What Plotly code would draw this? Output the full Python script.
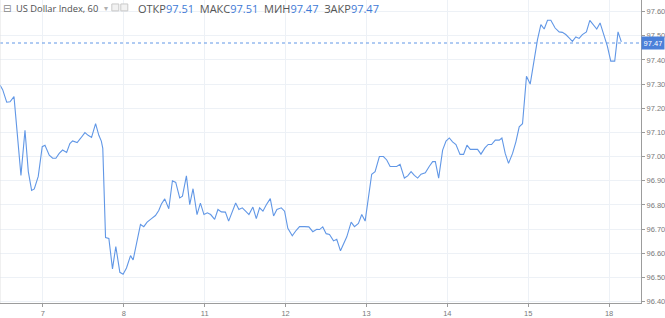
import plotly.graph_objects as go

# ---- data ----
day_labels = ["7", "8", "11", "12", "13", "14", "15", "18"]
day_ticks = [0, 1, 2, 3, 4, 5, 6, 7]

day_pos = [-0.531, -0.498, -0.448, -0.407, -0.358, -0.317, -0.272, -0.222, -0.181, -0.140,
           -0.107, -0.058, -0.009, 0.025, 0.078, 0.120, 0.160, 0.201, 0.243, 0.293,
           0.333, 0.367, 0.423, 0.469, 0.519, 0.559, 0.601, 0.651, 0.691, 0.722,
           0.740, 0.774, 0.815, 0.860, 0.901, 0.951, 0.991, 1.033, 1.083, 1.115,
           1.157, 1.206, 1.247, 1.288, 1.342, 1.391, 1.432, 1.465, 1.506, 1.556,
           1.601, 1.642, 1.691, 1.725, 1.774, 1.815, 1.856, 1.905, 1.947, 1.991,
           2.033, 2.074, 2.123, 2.164, 2.206, 2.256, 2.296, 2.337, 2.383, 2.423,
           2.465, 2.506, 2.547, 2.596, 2.638, 2.679, 2.720, 2.762, 2.811, 2.852,
           2.893, 2.947, 2.988, 3.028, 3.083, 3.132, 3.173, 3.235, 3.288, 3.337,
           3.386, 3.420, 3.460, 3.502, 3.543, 3.593, 3.633, 3.679, 3.720, 3.757,
           3.811, 3.852, 3.901, 3.942, 3.984, 4.025, 4.065, 4.107, 4.160, 4.210,
           4.251, 4.293, 4.333, 4.374, 4.416, 4.469, 4.510, 4.552, 4.593, 4.633,
           4.675, 4.728, 4.778, 4.819, 4.852, 4.893, 4.942, 4.984, 5.025, 5.065,
           5.107, 5.157, 5.201, 5.243, 5.284, 5.333, 5.374, 5.416, 5.465, 5.506,
           5.547, 5.593, 5.642, 5.675, 5.716, 5.757, 5.807, 5.848, 5.889, 5.930,
           5.979, 6.025, 6.074, 6.115, 6.157, 6.198, 6.239, 6.280, 6.333, 6.383,
           6.423, 6.465, 6.506, 6.547, 6.589, 6.630, 6.670, 6.720, 6.762, 6.802,
           6.848, 6.889, 6.938, 6.979, 7.021, 7.070, 7.111, 7.152]

price = [97.296, 97.277, 97.225, 97.227, 97.248, 97.088, 96.922, 97.109, 96.938, 96.860,
         96.866, 96.918, 97.041, 97.047, 97.006, 96.993, 96.993, 97.013, 97.027, 97.017,
         97.054, 97.065, 97.058, 97.077, 97.099, 97.088, 97.079, 97.136, 97.088, 97.064,
         97.034, 96.665, 96.661, 96.535, 96.628, 96.521, 96.513, 96.539, 96.590, 96.572,
         96.637, 96.719, 96.710, 96.729, 96.743, 96.756, 96.777, 96.804, 96.825, 96.784,
         96.900, 96.893, 96.829, 96.836, 96.920, 96.801, 96.867, 96.760, 96.807, 96.760,
         96.767, 96.760, 96.740, 96.781, 96.771, 96.770, 96.733, 96.771, 96.808, 96.781,
         96.788, 96.774, 96.760, 96.791, 96.743, 96.788, 96.774, 96.801, 96.826, 96.754,
         96.781, 96.788, 96.774, 96.703, 96.672, 96.695, 96.710, 96.710, 96.709, 96.689,
         96.699, 96.698, 96.709, 96.681, 96.678, 96.651, 96.658, 96.610, 96.637, 96.668,
         96.729, 96.710, 96.723, 96.760, 96.733, 96.829, 96.927, 96.938, 97.000, 97.000,
         96.986, 96.959, 96.959, 96.959, 96.968, 96.911, 96.920, 96.938, 96.922, 96.911,
         96.927, 96.933, 96.960, 96.979, 96.979, 96.911, 97.027, 97.064, 97.077, 97.061,
         97.050, 97.009, 97.009, 97.047, 97.030, 97.030, 97.030, 97.010, 97.036, 97.050,
         97.050, 97.068, 97.068, 97.077, 97.013, 96.972, 97.013, 97.061, 97.123, 97.136,
         97.332, 97.300, 97.409, 97.484, 97.546, 97.528, 97.564, 97.564, 97.532, 97.516,
         97.514, 97.505, 97.491, 97.477, 97.495, 97.489, 97.505, 97.516, 97.564, 97.546,
         97.528, 97.553, 97.498, 97.457, 97.395, 97.395, 97.516, 97.475]

last_price = 97.47
y_ticks = [96.4, 96.5, 96.6, 96.7, 96.8, 96.9, 97.0, 97.1, 97.2, 97.3, 97.4, 97.5, 97.6]
header_title = "US Dollar Index, 60"
ohlc_names = ["ОТКР", "МАКС", "МИН", "ЗАКР"]
ohlc_values = ["97.51", "97.51", "97.47", "97.47"]

# ---- figure ----
W, H = 665, 318
L, R, T, B = 0, 23, 0, 12
PW, PH = W - L - R, H - T - B

LINE = "#6197e6"
BLUE = "#3f7ad6"
GRID = "#edf1f6"
AXIS = "#9c9c9c"
TXT = "#7a7a7a"

fig = go.Figure()
fig.add_trace(go.Scatter(x=day_pos, y=price, mode="lines",
                         line=dict(color=LINE, width=1.1), hoverinfo="skip",
                         showlegend=False))

fig.update_layout(
    width=W, height=H,
    margin=dict(l=L, r=R, t=T, b=B, pad=0),
    paper_bgcolor="white", plot_bgcolor="white",
    font=dict(family="Liberation Sans, Arial, sans-serif", size=7.5, color=TXT),
    xaxis=dict(range=[-0.531, 7.395], tickmode="array", tickvals=day_ticks,
               ticktext=day_labels, showgrid=True, gridcolor=GRID, gridwidth=1,
               zeroline=False, showline=True, linecolor=AXIS, linewidth=1,
               ticks="outside", ticklen=3, tickcolor=AXIS,
               tickfont=dict(size=7.5, color=TXT), fixedrange=True),
    yaxis=dict(range=[96.394, 97.648], side="right", tickmode="array",
               tickvals=y_ticks, ticktext=[f"{v:.2f}" for v in y_ticks],
               showgrid=True, gridcolor=GRID, gridwidth=1, zeroline=False,
               showline=True, linecolor=AXIS, linewidth=1,
               ticks="outside", ticklen=3, tickcolor=AXIS,
               tickfont=dict(size=7.5, color=TXT), fixedrange=True),
)

# last price dotted line
fig.add_shape(type="line", xref="paper", x0=0, x1=1, yref="y",
              y0=last_price, y1=last_price,
              line=dict(color=LINE, width=1, dash="dot"))
# left border
fig.add_shape(type="line", xref="paper", x0=0, x1=0, yref="paper", y0=0, y1=1,
              line=dict(color="#e2e2e2", width=1))

# last price label on axis
fig.add_annotation(xref="paper", x=1, xanchor="left", yref="y", y=last_price,
                   text=f"{last_price:.2f}", showarrow=False,
                   font=dict(color="white", size=7.5, family="Liberation Sans, Arial"),
                   bgcolor="#4a80d9", borderpad=1.5, width=19, align="center")

def px(xp):
    return xp / PW

def py(yp):
    return 1 - yp / PH

# header
fig.add_annotation(xref="paper", yref="paper", x=px(1), y=py(9), xanchor="left",
                   yanchor="middle", text="⊟", showarrow=False,
                   font=dict(size=10, color="#8a8a8a", family="DejaVu Sans"))
fig.add_annotation(xref="paper", yref="paper", x=px(14), y=py(9), xanchor="left",
                   yanchor="middle", text=header_title, showarrow=False,
                   font=dict(size=9.3, color="#505050", family="Open Sans"))
fig.add_annotation(xref="paper", yref="paper", x=px(102), y=py(9), xanchor="left",
                   yanchor="middle", text="▾", showarrow=False,
                   font=dict(size=8, color="#b0b0b0", family="DejaVu Sans"))
for x0 in (112, 121):
    fig.add_shape(type="rect", xref="paper", yref="paper",
                  x0=px(x0), x1=px(x0 + 7), y0=py(4), y1=py(11),
                  line=dict(color="#c8c8c8", width=1), fillcolor="#f2f2f2")

parts = []
for n, v in zip(ohlc_names, ohlc_values):
    parts.append(f"<span style='color:#555555'>{n}</span><span style='color:{BLUE}'>{v}</span>")
fig.add_annotation(xref="paper", yref="paper", x=px(136), y=py(9), xanchor="left",
                   yanchor="middle", text="&nbsp;&nbsp;".join(parts), showarrow=False,
                   font=dict(size=11, family="Open Sans"))

fig.write_html("out.html")
